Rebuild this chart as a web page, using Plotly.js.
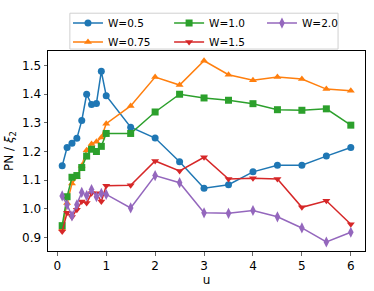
<!DOCTYPE html>
<html><head><meta charset="utf-8">
<script src="https://cdn.plot.ly/plotly-3.0.1.min.js"></script>
<style>html,body{margin:0;padding:0;background:#fff}#c{width:374px;height:291px}</style>
</head><body><div id="c"></div>
<script>
const u = [0.1,0.2,0.3,0.4,0.5,0.6,0.7,0.8,0.9,1.0,1.5,2,2.5,3,3.5,4,4.5,5,5.5,6];
const w050 = [1.150,1.214,1.229,1.246,1.308,1.400,1.364,1.368,1.480,1.395,1.285,1.247,1.164,1.072,1.084,1.129,1.152,1.152,1.184,1.214];
const w075 = [0.930,1.020,1.088,1.110,1.150,1.204,1.226,1.234,1.249,1.297,1.359,1.460,1.432,1.517,1.468,1.449,1.460,1.453,1.418,1.412];
const w100 = [0.941,1.042,1.110,1.116,1.144,1.184,1.208,1.200,1.218,1.263,1.263,1.338,1.400,1.387,1.379,1.367,1.346,1.344,1.349,1.292];
const w150 = [0.921,0.986,0.971,0.997,1.025,1.020,1.054,1.054,1.025,1.080,1.082,1.167,1.132,1.180,1.104,1.107,1.104,1.005,1.028,0.946];
const w200 = [1.045,1.014,0.975,1.014,1.057,1.046,1.067,1.042,1.054,1.050,1.003,1.116,1.091,0.986,0.984,0.994,0.972,0.933,0.884,0.918];
const names = ['W=0.5','W=0.75','W=1.0','W=1.5','W=2.0'];
const colors = ['#1f77b4','#ff7f0e','#2ca02c','#d62728','#9467bd'];
const symbols = ['circle','triangle-up','square','triangle-down','diamond-tall'];
const legendIds = ['legend','legend','legend2','legend2','legend3'];
const ys = [w050,w075,w100,w150,w200];
const data = ys.map((y,i)=>({
  x:u, y:y, name:names[i], type:'scatter', mode:'lines+markers',
  line:{color:colors[i], width:1.5},
  marker:{color:colors[i], symbol:symbols[i], size: symbols[i]==='diamond-tall'?8:7},
  legend:legendIds[i]
}));
const font = {family:'DejaVu Sans, sans-serif', color:'#000'};
function leg(x){
  return {orientation:'v', x:x, xanchor:'left', y:1.212, yanchor:'top',
    bgcolor:'rgba(0,0,0,0)', borderwidth:0, font:Object.assign({size:10.5}, font),
    tracegroupgap:0, itemwidth:30, traceorder:'normal'};
}
const layout = {
  width:374, height:291,
  margin:{l:48, r:9, t:45, b:40},
  paper_bgcolor:'#fff', plot_bgcolor:'#fff',
  font:Object.assign({size:12}, font),
  showlegend:true,
  legend:leg(0.063), legend2:leg(0.382), legend3:leg(0.675),
  shapes:[{type:'rect', xref:'paper', yref:'paper', x0:0.069, x1:0.915, y0:1.0097, y1:1.189,
    line:{color:'#d0d0d0', width:1}, fillcolor:'rgba(255,255,255,0)', layer:'below'}],
  xaxis:{range:[-0.19,6.29], tickvals:[0,1,2,3,4,5,6], ticks:'outside', ticklen:3.5, tickwidth:0.8,
    showline:true, mirror:true, linecolor:'#000', linewidth:1, showgrid:false, zeroline:false,
    tickfont:Object.assign({size:12}, font),
    title:{text:'u', font:Object.assign({size:12}, font), standoff:3}},
  yaxis:{range:[0.8525,1.551], tickvals:[0.9,1.0,1.1,1.2,1.3,1.4,1.5], ticktext:['0.9','1.0','1.1','1.2','1.3','1.4','1.5'],
    ticks:'outside', ticklen:3.5, tickwidth:0.8,
    showline:true, mirror:true, linecolor:'#000', linewidth:1, showgrid:false, zeroline:false,
    tickfont:Object.assign({size:12}, font),
    title:{text:'PN / <i>ξ</i><sub>2</sub>', font:Object.assign({size:12}, font), standoff:5}}
};
Plotly.newPlot('c', data, layout, {displayModeBar:false, staticPlot:true});
</script></body></html>
